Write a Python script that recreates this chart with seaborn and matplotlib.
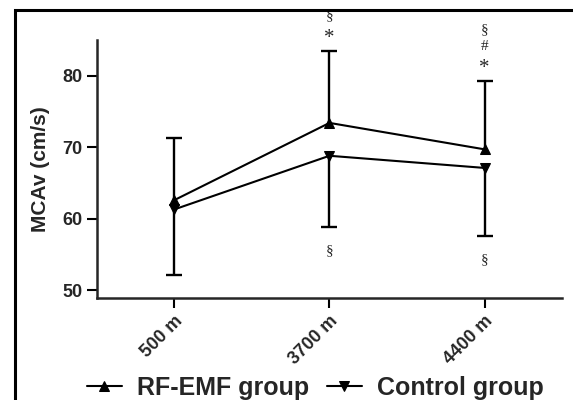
import seaborn as sns
import matplotlib.pyplot as plt
import matplotlib.patches as mpatches
import numpy as np
import pandas as pd

# altitudes and MCAv values (cm/s)
altitudes = ['500 m', '3700 m', '4400 m']
rf_mean = [62.6, 73.4, 69.7]
rf_sd = [8.7, 10.1, 9.6]
ctrl_mean = [61.3, 68.8, 67.1]
ctrl_sd = [9.2, 10.0, 9.5]

# significance marks (above RF bars, below control bars)
rf_marks = [[], ['*', '§'], ['*', '#', '§']]
ctrl_marks = [[], ['§'], ['§']]

groups = ['RF-EMF group', 'Control group']
pos = np.arange(len(altitudes))
df = pd.DataFrame({
    'pos': np.concatenate([pos, pos]),
    'mcav': rf_mean + ctrl_mean,
    'group': [groups[0]] * 3 + [groups[1]] * 3,
})

sns.set_style('ticks')
plt.rcParams['font.family'] = ['Liberation Sans', 'DejaVu Sans']
plt.rcParams['font.weight'] = 'bold'

fig = plt.figure(figsize=(5.73, 4.0), dpi=100)
ax = fig.add_axes([0.169, 0.255, 0.812, 0.645])

sns.lineplot(data=df, x='pos', y='mcav', hue='group', style='group',
             markers=['^', 'v'], dashes=False, palette=['black', 'black'],
             markersize=7, linewidth=1.5, markeredgecolor='black', ax=ax, legend=True)

# one-sided error bars: RF up, control down
rf_top = np.array(rf_mean) + np.array(rf_sd)
ctrl_bot = np.array(ctrl_mean) - np.array(ctrl_sd)
ax.vlines(pos, rf_mean, rf_top, color='black', linewidth=1.7)
ax.vlines(pos, ctrl_bot, ctrl_mean, color='black', linewidth=1.7)
ax.plot(pos, rf_top, ls='none', marker='_', markersize=12, mew=1.7, color='black')
ax.plot(pos, ctrl_bot, ls='none', marker='_', markersize=12, mew=1.7, color='black')

for i in range(3):
    for j, m in enumerate(rf_marks[i]):
        off = [9, 25, 37][j]
        ax.annotate(m, (pos[i], rf_top[i]), xytext=(0, off), textcoords='offset points',
                    ha='center', va='center', fontsize=15 if m == '*' else 11,
                    family='Liberation Serif', fontweight='normal',
                    annotation_clip=False)
    for m in ctrl_marks[i]:
        ax.annotate(m, (pos[i], ctrl_bot[i]), xytext=(0, -17), textcoords='offset points',
                    ha='center', va='center', fontsize=11, family='Liberation Serif',
                    fontweight='normal', annotation_clip=False)

ax.set_xlim(-0.5, 2.5)
ax.set_ylim(48.9, 85)
ax.set_yticks([50, 60, 70, 80])
ax.set_xticks(pos)
ax.set_xticklabels(altitudes, rotation=45, ha='right', rotation_mode='anchor')
ax.set_xlabel('')
ax.set_ylabel('MCAv (cm/s)', fontsize=15, fontweight='bold', labelpad=9)
ax.tick_params(axis='both', labelsize=13, width=1.5, length=7, color='black')
for s in ['left', 'bottom']:
    ax.spines[s].set_linewidth(1.8)
sns.despine(ax=ax)

handles, labels = ax.get_legend_handles_labels()
ax.get_legend().remove()
fig.legend(handles, labels, loc='center', bbox_to_anchor=(0.55, 0.03), ncol=2,
           frameon=False, prop={'weight': 'bold', 'size': 18},
           handlelength=1.4, handletextpad=0.6, columnspacing=0.7)

# outer frame of the figure panel
fig.patches.append(mpatches.Rectangle((0.026, -0.1), 1.1, 1.075, transform=fig.transFigure,
                                      fill=False, edgecolor='black', linewidth=2.2))

plt.savefig('out.png', dpi=100)
